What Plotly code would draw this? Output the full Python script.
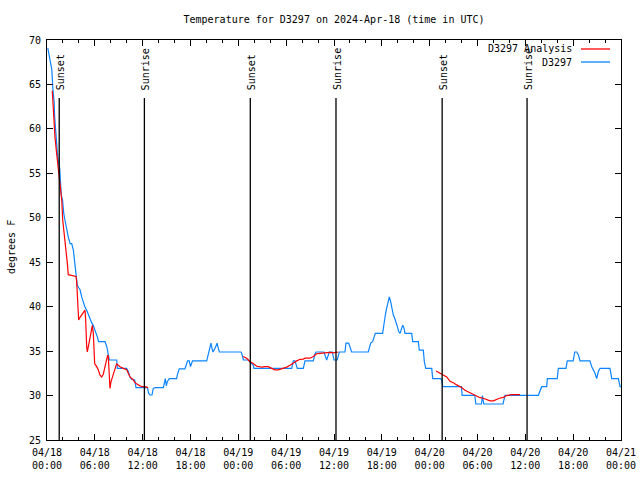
import pandas as pd
import plotly.graph_objects as go

START = pd.Timestamp("2024-04-18 00:00")

# ---- data (hours after 2024-04-18 00:00 UTC, degrees F) ----
obs_hours = [0.1, 0.45, 0.6, 0.75, 0.9, 0.95, 1.1, 1.3, 1.45, 1.6, 1.7, 1.8, 1.95, 2.0, 2.1, 2.25,
             2.45, 2.65, 2.9, 3.1, 3.3, 3.5, 3.65, 3.8, 4.0, 4.15, 4.35, 4.55, 4.75, 4.98, 5.18,
             5.4, 5.6, 5.8, 5.93, 6.15, 6.31, 6.48, 7.28, 7.5, 7.7, 7.82, 8.75, 8.82, 9.99, 10.2,
             10.4, 10.6, 11.0, 11.16, 12.6, 12.73, 12.92, 13.17, 13.33, 13.6, 14.59, 14.76,
             14.84, 14.97, 15.09, 15.34, 16.26, 16.34, 16.59, 17.3, 17.5, 17.63, 17.84, 18.0,
             18.13, 18.26, 20.03, 20.2, 20.45, 20.57, 20.7, 20.82, 21.07, 21.33, 21.49, 21.62,
             24.33, 24.42, 24.55, 24.63, 25.26, 25.47, 25.6, 25.88, 25.96, 30.7, 30.9, 31.1,
             31.4, 32.15, 32.36, 33.4, 33.62, 33.74, 34.74, 34.96, 35.08, 35.25, 35.41, 35.79,
             35.92, 36.0, 36.4, 36.58, 36.66, 37.38, 37.5, 37.84, 38.0, 38.21, 40.3, 40.43,
             40.6, 40.85, 41.0, 41.18, 42.1, 42.27, 42.44, 42.6, 42.73, 42.86, 42.94, 43.11,
             43.28, 43.44, 43.62, 43.78, 43.95, 44.12, 44.29, 44.46, 44.63, 44.8, 44.91, 45.75,
             45.87, 46.58, 46.7, 47.2, 47.33, 47.51, 48.26, 48.38, 49.42, 49.55, 49.64, 51.99,
             52.07, 53.66, 53.79, 54.5, 54.62, 54.7, 54.8, 57.2, 57.45, 61.63, 61.84, 62.05,
             62.68, 62.76, 64.0, 64.14, 65.1, 65.26, 66.0, 66.2, 66.45, 66.66, 66.86, 68.1,
             68.33, 68.53, 68.74, 68.95, 69.16, 69.37, 70.62, 70.84, 71.67, 71.88, 72.0]
obs_temp = [69.1, 67.6, 66.7, 64.3, 63.0, 61.5, 59.2, 57.3, 56.2, 55.5, 53.9, 52.5, 52.0, 51.3,
            50.5, 49.75, 48.6, 47.9, 47.1, 47.1, 46.4, 44.5, 43.4, 42.4, 42.1, 41.9, 41.1, 40.4,
            40.0, 39.6, 39.1, 38.7, 38.2, 37.9, 37.6, 37.0, 36.6, 36.06, 36.06, 35.5, 34.75,
            34.0, 34.0, 33.06, 33.06, 32.7, 32.1, 31.85, 31.75, 30.9, 30.9, 30.3, 30.06, 30.06,
            30.8, 30.9, 30.9, 31.56, 31.9, 31.1, 31.56, 31.9, 31.9, 32.3, 33.0, 33.0, 33.5,
            33.9, 33.9, 33.25, 33.6, 33.9, 33.9, 34.56, 35.5, 35.9, 35.3, 34.9, 35.3, 35.9,
            35.3, 34.9, 34.9, 34.75, 34.3, 34.0, 34.0, 33.8, 33.6, 33.4, 33.06, 33.06, 33.9,
            33.9, 33.06, 33.06, 33.9, 33.9, 34.7, 34.9, 34.9, 34.4, 34.0, 34.45, 34.9, 34.9,
            34.4, 34.0, 34.0, 34.56, 34.9, 34.9, 35.9, 35.9, 35.5, 34.9, 34.9, 35.5, 35.9,
            36.06, 36.56, 37.0, 37.0, 38.3, 39.06, 39.8, 40.4, 40.9, 41.1, 40.56, 39.8, 39.06,
            38.7, 38.1, 37.75, 37.2, 37.0, 37.5, 37.9, 37.5, 37.0, 37.0, 36.06, 36.06, 35.1,
            35.1, 33.8, 33.06, 33.06, 31.9, 31.9, 31.56, 31.0, 31.0, 30.03, 30.03, 29.05,
            29.05, 30.0, 29.5, 29.05, 29.05, 30.03, 30.03, 30.6, 31.0, 31.0, 31.9, 31.9, 33.06,
            33.06, 33.9, 33.9, 34.9, 34.9, 34.56, 33.9, 33.9, 33.25, 32.9, 32.5, 31.9, 32.7,
            33.06, 33.06, 31.9, 31.9, 31.0, 31.0]

ana1_hours = [0.66, 0.8, 0.92, 1.0, 1.2, 1.45, 1.55, 1.85, 1.97, 2.13, 2.26, 2.38, 2.55, 2.67,
              3.5, 3.64, 3.72, 3.8, 3.89, 3.97, 4.14, 4.35, 4.55, 4.77, 4.85, 4.89, 4.98, 5.06,
              5.18, 5.31, 5.48, 5.6, 5.69, 5.81, 5.9, 5.98, 6.23, 6.43, 6.65, 6.86, 7.06, 7.27,
              7.48, 7.61, 7.69, 7.78, 7.9, 8.03, 8.24, 8.53, 8.74, 8.94, 9.15, 9.57, 9.99, 10.2,
              10.41, 10.83, 11.04, 11.46, 11.88, 12.3, 12.67]
ana1_temp = [64.3, 62.0, 60.5, 59.1, 57.3, 55.4, 54.25, 52.0, 49.75, 48.6, 47.5, 46.4, 44.9, 43.6,
             43.45, 43.4, 42.8, 41.1, 39.8, 38.5, 38.8, 39.1, 39.4, 39.6, 38.5, 37.0, 35.5, 34.9,
             35.5, 36.06, 37.0, 37.56, 37.9, 37.0, 35.5, 33.6, 33.25, 32.9, 32.3, 32.1, 32.4,
             33.25, 34.0, 34.56, 34.4, 32.9, 30.8, 31.56, 32.1, 32.9, 33.6, 33.4, 33.25, 33.06,
             32.9, 32.5, 32.1, 31.75, 31.45, 31.2, 31.0, 31.0, 30.9]
ana2_hours = [24.59, 25.05, 25.46, 25.88, 26.3, 26.93, 27.35, 27.76, 28.19, 28.6, 29.01, 29.44,
              29.64, 30.07, 30.48, 30.9, 31.32, 31.74, 32.15, 32.36, 32.99, 33.41, 33.83, 34.25,
              34.66, 35.09, 35.5, 35.91, 36.34, 36.54]
ana2_temp = [34.4, 34.2, 33.8, 33.6, 33.3, 33.2, 33.25, 33.25, 33.06, 32.9, 32.9, 33.0, 33.06,
             33.2, 33.4, 33.7, 33.9, 34.08, 34.1, 34.2, 34.2, 34.4, 34.7, 34.75, 34.8, 34.86,
             34.86, 34.8, 34.86, 34.9]
ana3_hours = [48.8, 49.3, 49.71, 50.14, 50.55, 50.97, 51.39, 52.02, 52.43, 52.85, 53.48, 53.9,
              54.32, 54.73, 55.16, 55.57, 55.99, 56.41, 56.74, 57.24, 57.67, 58.29, 59.33]
ana3_temp = [32.76, 32.5, 32.3, 32.1, 31.6, 31.45, 31.2, 30.9, 30.6, 30.4, 30.1, 29.95, 29.76,
             29.7, 29.57, 29.4, 29.4, 29.6, 29.7, 29.8, 30.0, 30.1, 30.1]

sun_times = ["2024-04-18 01:32", "2024-04-18 12:13", "2024-04-19 01:30",
             "2024-04-19 12:15", "2024-04-20 01:34", "2024-04-20 12:13"]
sun_labels = ["Sunset", "Sunrise", "Sunset", "Sunrise", "Sunset", "Sunrise"]

series_names = ["D3297 Analysis", "D3297"]
series_colors = ["#ff0000", "#0a84ff"]

TITLE = "Temperature for D3297 on 2024-Apr-18 (time in UTC)"
YLABEL = "degrees F"


def to_time(hours):
    return START + pd.to_timedelta(pd.Series(hours), unit="h")


FONT = "DejaVu Sans Mono"

fig = go.Figure()

a_times = list(to_time(ana1_hours)) + [None] + list(to_time(ana2_hours)) + [None] + list(to_time(ana3_hours))
a_vals = ana1_temp + [None] + ana2_temp + [None] + ana3_temp

fig.add_trace(go.Scatter(x=to_time(obs_hours), y=obs_temp, mode="lines",
                         line=dict(color=series_colors[1], width=1.2), name=series_names[1],
                         showlegend=False))
fig.add_trace(go.Scatter(x=a_times, y=a_vals, mode="lines", connectgaps=False,
                         line=dict(color=series_colors[0], width=1.2), name=series_names[0],
                         showlegend=False))

for t, lab in zip(sun_times, sun_labels):
    fig.add_shape(type="line", xref="x", yref="paper", x0=t, x1=t, y0=0, y1=0.855,
                  line=dict(color="black", width=1.3))
    fig.add_annotation(x=t, xref="x", yref="paper", y=0.87, yanchor="bottom", xanchor="center",
                       text=lab, textangle=-90, showarrow=False, xshift=1,
                       font=dict(family=FONT, size=10, color="black"))

leg_y = [(440 - 49) / 400, (440 - 62) / 400]
for name, col, yy in zip(series_names, series_colors, leg_y):
    fig.add_annotation(xref="paper", yref="paper", x=(574 - 47) / 574, y=yy,
                       xanchor="right", yanchor="middle", text=name, showarrow=False,
                       font=dict(family=FONT, size=10, color="black"))
    fig.add_shape(type="line", xref="paper", yref="paper", x0=(581 - 47) / 574,
                  x1=(610 - 47) / 574, y0=yy, y1=yy, line=dict(color=col, width=1.3))

fig.add_annotation(xref="paper", yref="paper", x=(11 - 47) / 574, y=(440 - 247) / 400,
                   xanchor="center", yanchor="middle", text=YLABEL, textangle=-90,
                   showarrow=False, font=dict(family=FONT, size=10, color="black"))

fig.update_layout(
    width=640, height=480,
    margin=dict(l=47, r=19, t=40, b=40, pad=0, autoexpand=False),
    paper_bgcolor="white", plot_bgcolor="white",
    font=dict(family=FONT, size=10, color="black"),
    title=dict(text=TITLE, x=334 / 640, xanchor="center", y=1 - 19 / 480, yanchor="middle",
               font=dict(family=FONT, size=10, color="black")),
    showlegend=False,
)
fig.update_xaxes(
    type="date", range=["2024-04-18 00:00", "2024-04-21 00:00"],
    tick0="2024-04-18 00:00", dtick=6 * 3600 * 1000, tickformat="%m/%d<br>%H:%M",
    ticks="inside", ticklen=6, tickcolor="black", tickwidth=1,
    minor=dict(dtick=2 * 3600 * 1000, ticks="inside", ticklen=3, tickcolor="black", showgrid=False),
    showline=True, linecolor="black", linewidth=1, mirror="ticks",
    showgrid=False, zeroline=False, automargin=False, ticklabelstandoff=3,
    tickfont=dict(family=FONT, size=10, color="black"),
)
fig.update_yaxes(
    range=[25, 70], dtick=5, tick0=25,
    ticks="inside", ticklen=6, tickcolor="black", tickwidth=1,
    showline=True, linecolor="black", linewidth=1, mirror="ticks",
    showgrid=False, zeroline=False, automargin=False, ticklabelstandoff=3,
    tickfont=dict(family=FONT, size=10, color="black"),
)

fig.write_html("out.html", post_script="document.body.style.margin='0';",
               config={"displayModeBar": False})
